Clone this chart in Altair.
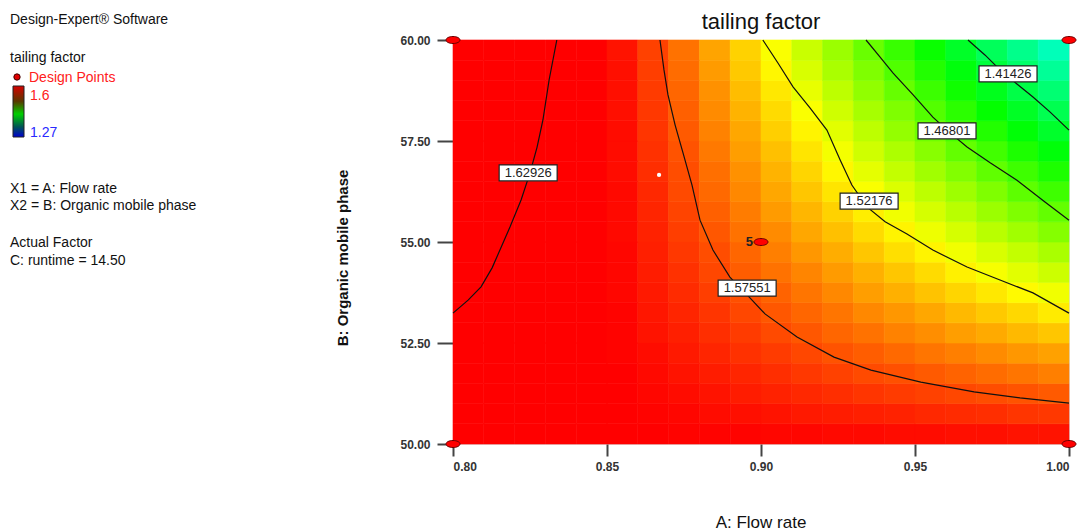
import altair as alt
import pandas as pd

# ---------------- data ----------------
# cell centres of the response grid
flow_rate = [0.805, 0.815, 0.825, 0.835, 0.845, 0.855, 0.865, 0.875, 0.885, 0.895,
             0.905, 0.915, 0.925, 0.935, 0.945, 0.955, 0.965, 0.975, 0.985, 0.995]
organic = [50.25, 50.75, 51.25, 51.75, 52.25, 52.75, 53.25, 53.75, 54.25, 54.75,
           55.25, 55.75, 56.25, 56.75, 57.25, 57.75, 58.25, 58.75, 59.25, 59.75]

# estimated tailing factor per cell (rows bottom -> top, columns left -> right)
tailing_grid = [
    [1.603, 1.602, 1.602, 1.601, 1.601, 1.600, 1.600, 1.599, 1.599, 1.599, 1.598, 1.598, 1.597, 1.597, 1.596, 1.596, 1.595, 1.595, 1.594, 1.594],
    [1.607, 1.605, 1.604, 1.603, 1.601, 1.600, 1.599, 1.598, 1.596, 1.595, 1.594, 1.592, 1.591, 1.590, 1.589, 1.587, 1.586, 1.585, 1.583, 1.582],
    [1.610, 1.608, 1.606, 1.604, 1.602, 1.600, 1.598, 1.596, 1.594, 1.591, 1.589, 1.587, 1.585, 1.583, 1.581, 1.579, 1.577, 1.575, 1.573, 1.571],
    [1.614, 1.611, 1.608, 1.605, 1.602, 1.600, 1.597, 1.594, 1.591, 1.588, 1.585, 1.582, 1.579, 1.576, 1.574, 1.571, 1.568, 1.565, 1.562, 1.559],
    [1.618, 1.614, 1.610, 1.607, 1.603, 1.599, 1.596, 1.592, 1.588, 1.584, 1.581, 1.577, 1.573, 1.570, 1.566, 1.562, 1.559, 1.555, 1.551, 1.548],
    [1.621, 1.617, 1.612, 1.608, 1.603, 1.599, 1.594, 1.590, 1.585, 1.581, 1.576, 1.572, 1.567, 1.563, 1.558, 1.554, 1.549, 1.545, 1.540, 1.536],
    [1.625, 1.620, 1.614, 1.609, 1.604, 1.599, 1.593, 1.588, 1.583, 1.577, 1.572, 1.567, 1.562, 1.556, 1.551, 1.546, 1.540, 1.535, 1.530, 1.524],
    [1.629, 1.623, 1.617, 1.610, 1.604, 1.598, 1.592, 1.586, 1.580, 1.574, 1.568, 1.562, 1.556, 1.549, 1.543, 1.537, 1.531, 1.525, 1.519, 1.513],
    [1.632, 1.625, 1.619, 1.612, 1.605, 1.598, 1.591, 1.584, 1.577, 1.570, 1.563, 1.557, 1.550, 1.543, 1.536, 1.529, 1.522, 1.515, 1.508, 1.501],
    [1.636, 1.628, 1.621, 1.613, 1.605, 1.598, 1.590, 1.582, 1.575, 1.567, 1.559, 1.551, 1.544, 1.536, 1.528, 1.521, 1.513, 1.505, 1.498, 1.490],
    [1.640, 1.631, 1.623, 1.614, 1.606, 1.597, 1.589, 1.580, 1.572, 1.563, 1.555, 1.546, 1.538, 1.529, 1.521, 1.512, 1.504, 1.495, 1.487, 1.478],
    [1.643, 1.634, 1.625, 1.616, 1.606, 1.597, 1.588, 1.578, 1.569, 1.560, 1.550, 1.541, 1.532, 1.523, 1.513, 1.504, 1.495, 1.485, 1.476, 1.467],
    [1.647, 1.637, 1.627, 1.617, 1.607, 1.597, 1.587, 1.576, 1.566, 1.556, 1.546, 1.536, 1.526, 1.516, 1.506, 1.496, 1.486, 1.476, 1.465, 1.455],
    [1.651, 1.640, 1.629, 1.618, 1.607, 1.596, 1.585, 1.575, 1.564, 1.553, 1.542, 1.531, 1.520, 1.509, 1.498, 1.487, 1.477, 1.466, 1.455, 1.444],
    [1.654, 1.643, 1.631, 1.619, 1.608, 1.596, 1.584, 1.573, 1.561, 1.549, 1.538, 1.526, 1.514, 1.502, 1.491, 1.479, 1.467, 1.456, 1.444, 1.432],
    [1.658, 1.646, 1.633, 1.621, 1.608, 1.596, 1.583, 1.571, 1.558, 1.546, 1.533, 1.521, 1.508, 1.496, 1.483, 1.471, 1.458, 1.446, 1.433, 1.421],
    [1.662, 1.648, 1.635, 1.622, 1.609, 1.595, 1.582, 1.569, 1.555, 1.542, 1.529, 1.516, 1.502, 1.489, 1.476, 1.462, 1.449, 1.436, 1.423, 1.409],
    [1.665, 1.651, 1.637, 1.623, 1.609, 1.595, 1.581, 1.567, 1.553, 1.539, 1.525, 1.510, 1.496, 1.482, 1.468, 1.454, 1.440, 1.426, 1.412, 1.398],
    [1.669, 1.654, 1.639, 1.624, 1.610, 1.595, 1.580, 1.565, 1.550, 1.535, 1.520, 1.505, 1.490, 1.476, 1.461, 1.446, 1.431, 1.416, 1.401, 1.386],
    [1.673, 1.657, 1.641, 1.626, 1.610, 1.594, 1.579, 1.563, 1.547, 1.532, 1.516, 1.500, 1.485, 1.469, 1.453, 1.438, 1.422, 1.406, 1.390, 1.375],
]
cell_w = 0.01
cell_h = 0.5

# contour lines
c1_x = [0.8337, 0.8312, 0.8292, 0.8273, 0.8250, 0.8221, 0.8185, 0.8127, 0.8091, 0.8049, 0.8000]
c1_y = [60.00, 59.01, 58.02, 57.35, 56.71, 56.04, 55.37, 54.36, 53.89, 53.56, 53.24]
c2_x = [0.8672, 0.8685, 0.8698, 0.8721, 0.8747, 0.8776, 0.8802, 0.8844, 0.8899, 0.8955,
        0.9013, 0.9117, 0.9237, 0.9357, 0.9519, 0.9692, 0.9841, 1.0000]
c2_y = [60.00, 59.26, 58.64, 57.90, 57.20, 56.41, 55.54, 54.80, 54.13, 53.69,
        53.22, 52.65, 52.15, 51.83, 51.53, 51.29, 51.14, 51.01]
c3_x = [0.9006, 0.9055, 0.9104, 0.9159, 0.9214, 0.9257, 0.9295, 0.9344, 0.9403, 0.9474,
        0.9558, 0.9669, 0.9776, 0.9883, 1.0000]
c3_y = [60.00, 59.43, 58.84, 58.32, 57.77, 57.03, 56.41, 55.87, 55.50, 55.20,
        54.80, 54.38, 54.06, 53.74, 53.24]
c4_x = [0.9341, 0.9386, 0.9429, 0.9494, 0.9558, 0.9614, 0.9669, 0.9744, 0.9831, 0.9922, 1.0000]
c4_y = [60.00, 59.58, 59.18, 58.64, 58.09, 57.70, 57.35, 56.96, 56.53, 55.99, 55.54]
c5_x = [0.9672, 0.9727, 0.9776, 0.9831, 0.9883, 0.9938, 1.0000]
c5_y = [60.00, 59.63, 59.26, 58.91, 58.59, 58.22, 57.77]
contour_levels = ["1.62926", "1.57551", "1.52176", "1.46801", "1.41426"]
label_x = [0.8244, 0.8955, 0.9351, 0.9604, 0.9802]
label_y = [56.71, 53.86, 56.01, 57.75, 59.16]

# design points
dp_x = [0.80, 0.80, 1.00, 1.00, 0.90]
dp_y = [50.00, 60.00, 50.00, 60.00, 55.00]
dp_label = ["", "", "", "", "5"]
white_dot_x = [0.8669]
white_dot_y = [56.66]

x_ticks = [0.80, 0.85, 0.90, 0.95, 1.00]
y_ticks = [50.00, 52.50, 55.00, 57.50, 60.00]

FONT = "Liberation Sans"

# ---------------- tables ----------------
cells = []
for j, yc in enumerate(organic):
    for i, xc in enumerate(flow_rate):
        cells.append({"x1": xc - cell_w / 2, "x2": xc + cell_w / 2,
                      "y1": yc - cell_h / 2, "y2": yc + cell_h / 2,
                      "v": tailing_grid[j][i]})
cells_df = pd.DataFrame(cells)

lines = []
for lev, xs, ys in zip(contour_levels, [c1_x, c2_x, c3_x, c4_x, c5_x], [c1_y, c2_y, c3_y, c4_y, c5_y]):
    for k, (xv, yv) in enumerate(zip(xs, ys)):
        lines.append({"level": lev, "i": k, "x": xv, "y": yv})
lines_df = pd.DataFrame(lines)

labels_df = pd.DataFrame({"x": label_x, "y": label_y, "t": contour_levels})
dp_df = pd.DataFrame({"x": dp_x, "y": dp_y, "t": dp_label})
wd_df = pd.DataFrame({"x": white_dot_x, "y": white_dot_y})

xs = alt.Scale(domain=[0.8, 1.0], nice=False, zero=False)
ys = alt.Scale(domain=[50, 60], nice=False, zero=False)
cs = alt.Scale(domain=[1.27, 1.3525, 1.435, 1.5175, 1.6],
               range=["#0000ff", "#00ffff", "#00ff00", "#ffff00", "#ff0000"],
               clamp=True, interpolate="rgb")

x_axis = alt.Axis(values=x_ticks, format=".2f", title=None, grid=False, domain=False,
                  tickSize=12, tickWidth=2, tickColor="#444", labelPadding=5,
                  labelFontSize=12, labelFontWeight="bold", labelColor="#333", labelFont=FONT)
y_axis = alt.Axis(values=y_ticks, format=".2f", title=None, grid=False, domain=False,
                  tickSize=16, tickWidth=2, tickColor="#444", labelPadding=7,
                  labelFontSize=12, labelFontWeight="bold", labelColor="#333", labelFont=FONT)

heat = alt.Chart(cells_df).mark_rect(strokeWidth=0.6).encode(
    x=alt.X("x1:Q", scale=xs, axis=x_axis), x2="x2:Q",
    y=alt.Y("y1:Q", scale=ys, axis=y_axis), y2="y2:Q",
    color=alt.Color("v:Q", scale=cs, legend=None),
    stroke=alt.Stroke("v:Q", scale=cs, legend=None),
)

clines = alt.Chart(lines_df).mark_line(color="#111", strokeWidth=1.2).encode(
    x=alt.X("x:Q", scale=xs), y=alt.Y("y:Q", scale=ys),
    detail="level:N", order="i:Q",
)

box_shape = "M -1 -0.276 L 1 -0.276 L 1 0.276 L -1 0.276 Z"
boxes = alt.Chart(labels_df).mark_point(shape=box_shape, size=3364, filled=True,
                                        fill="white", stroke="#222", strokeWidth=1.2,
                                        opacity=1).encode(
    x=alt.X("x:Q", scale=xs), y=alt.Y("y:Q", scale=ys))
box_text = alt.Chart(labels_df).mark_text(font=FONT, fontSize=13, color="#222",
                                          align="center", baseline="middle").encode(
    x=alt.X("x:Q", scale=xs), y=alt.Y("y:Q", scale=ys), text="t:N")

ellipse = "M -1 0 A 1 0.5 0 1 0 1 0 A 1 0.5 0 1 0 -1 0 Z"
dpts = alt.Chart(dp_df).mark_point(shape=ellipse, size=196, filled=True, fill="#ff0000",
                                   stroke="#6a0000", strokeWidth=1, opacity=1).encode(
    x=alt.X("x:Q", scale=xs), y=alt.Y("y:Q", scale=ys))
dp_text = alt.Chart(dp_df).mark_text(font=FONT, fontSize=13, fontWeight="bold", color="#222",
                                     align="right", baseline="middle", dx=-8).encode(
    x=alt.X("x:Q", scale=xs), y=alt.Y("y:Q", scale=ys), text="t:N")
wdot = alt.Chart(wd_df).mark_circle(size=18, color="white", opacity=1).encode(
    x=alt.X("x:Q", scale=xs), y=alt.Y("y:Q", scale=ys))


def txt(s, x, y, size=14, color="#111", weight="normal", align="left", angle=0, baseline="alphabetic"):
    return alt.Chart(pd.DataFrame({"t": [s]})).mark_text(
        font=FONT, fontSize=size, color=color, fontWeight=weight, align=align,
        baseline=baseline, angle=angle).encode(
        x=alt.value(x), y=alt.value(y), text="t:N")


side = [
    txt("Design-Expert® Software", -443, -16),
    txt("tailing factor", -443, 22),
    txt("Design Points", -424, 42, color="#ff2020"),
    txt("1.6", -423, 60, color="#ff2020"),
    txt("1.27", -423, 97, color="#2a2aff"),
    txt("X1 = A: Flow rate", -443, 153),
    txt("X2 = B: Organic mobile phase", -443, 170),
    txt("Actual Factor", -443, 207),
    txt("C: runtime = 14.50", -443, 225),
    txt("tailing factor", 308, -11, size=22, align="center"),
    txt("A: Flow rate", 308, 488, size=17, align="center"),
    txt("B: Organic mobile phase", -110, 218, size=15, weight="bold", align="center",
        angle=270, baseline="middle"),
]

legend_dot = alt.Chart(pd.DataFrame({"a": [0]})).mark_circle(
    size=40, fill="#e00000", stroke="#400000", strokeWidth=1, opacity=1).encode(
    x=alt.value(-436), y=alt.value(37))

bar_grad = alt.Gradient(gradient="linear", x1=0, x2=0, y1=0, y2=1, stops=[
    alt.GradientStop(offset=0.0, color="#d80000"),
    alt.GradientStop(offset=0.3, color="#5a3800"),
    alt.GradientStop(offset=0.55, color="#00d000"),
    alt.GradientStop(offset=0.8, color="#005555"),
    alt.GradientStop(offset=1.0, color="#0000d0"),
])
color_bar = alt.Chart(pd.DataFrame({"a": [0]})).mark_rect(
    color=bar_grad, stroke="#222", strokeWidth=1).encode(
    x=alt.value(-440), x2=alt.value(-429), y=alt.value(46), y2=alt.value(97))

chart = alt.layer(heat, clines, boxes, box_text, wdot, dpts, dp_text,
                  legend_dot, color_bar, *side).properties(
    width=616, height=404,
    autosize=alt.AutoSizeParams(type="none"),
    padding={"left": 453, "top": 40, "right": 14, "bottom": 87},
    background="white",
).configure_view(stroke="#333", strokeWidth=1.5).configure(font=FONT)

chart.save("out.html", embed_options={"renderer": "svg", "actions": False})
